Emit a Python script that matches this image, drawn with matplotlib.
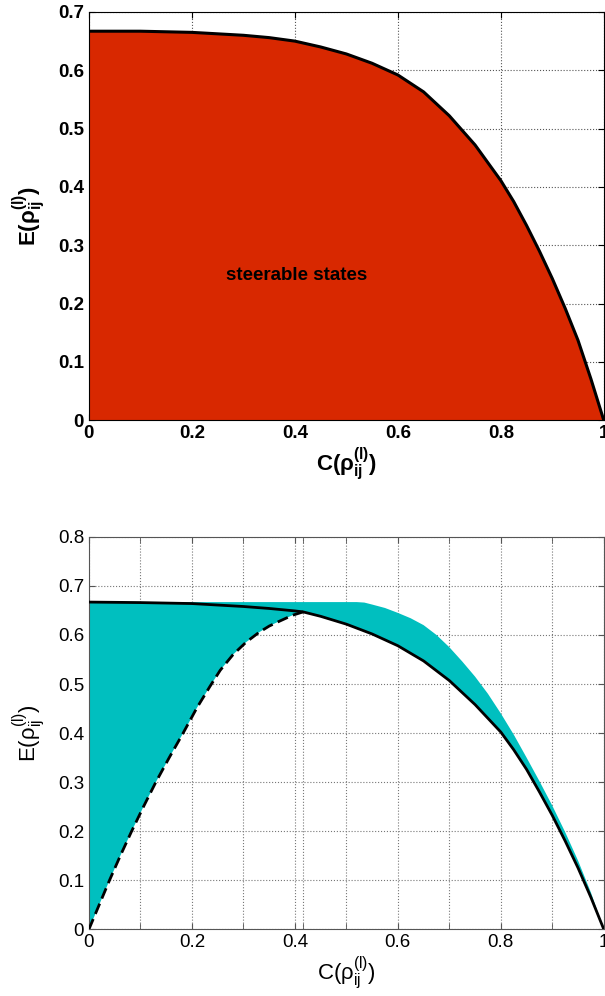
import matplotlib
matplotlib.use("Agg")
import matplotlib.pyplot as plt
import numpy as np

plt.rcParams['font.family'] = ['Liberation Sans', 'DejaVu Sans']
plt.rcParams['mathtext.fontset'] = 'custom'
plt.rcParams['mathtext.rm'] = 'Liberation Sans'
plt.rcParams['mathtext.it'] = 'Liberation Sans:italic'
plt.rcParams['mathtext.bf'] = 'Liberation Sans:bold'

# top panel: boundary of the steerable region
top_c = [0, 0.1, 0.2, 0.3, 0.35, 0.4, 0.45, 0.5, 0.55, 0.6, 0.65, 0.7, 0.75, 0.8,
         0.825, 0.85, 0.875, 0.9, 0.925, 0.95, 0.975, 1.0]
top_e = [0.667, 0.667, 0.665, 0.660, 0.656, 0.650, 0.640, 0.628, 0.612, 0.592, 0.563,
         0.522, 0.472, 0.411, 0.375, 0.334, 0.290, 0.243, 0.192, 0.137, 0.071, 0.0]

# bottom panel: solid curve
sol_c = [0, 0.1, 0.2, 0.3, 0.35, 0.4, 0.416, 0.45, 0.5, 0.55, 0.6, 0.65, 0.7, 0.75, 0.8,
         0.825, 0.85, 0.875, 0.9, 0.925, 0.95, 0.975, 1.0]
sol_e = [0.667, 0.666, 0.664, 0.658, 0.654, 0.649, 0.647, 0.638, 0.622, 0.602, 0.578,
         0.547, 0.507, 0.458, 0.402, 0.366, 0.326, 0.280, 0.232, 0.180, 0.125, 0.065, 0.0]

# bottom panel: dashed curve
dash_c = [0, 0.02, 0.04, 0.061, 0.083, 0.106, 0.13, 0.156, 0.183, 0.21, 0.235, 0.255,
          0.28, 0.305, 0.33, 0.35, 0.37, 0.395, 0.416]
dash_e = [0, 0.05, 0.1, 0.15, 0.2, 0.25, 0.3, 0.35, 0.4, 0.452, 0.495, 0.528,
          0.56, 0.585, 0.605, 0.618, 0.628, 0.640, 0.647]

# bottom panel: upper edge of cyan region
up_c = [0, 0.2, 0.4, 0.52, 0.535, 0.55, 0.575, 0.6, 0.625, 0.65, 0.675, 0.7, 0.725,
        0.75, 0.775, 0.8, 0.825, 0.85, 0.875, 0.9, 0.925, 0.95, 0.975, 1.0]
up_e = [0.667, 0.667, 0.667, 0.667, 0.666, 0.662, 0.655, 0.645, 0.634, 0.620, 0.600,
        0.575, 0.546, 0.515, 0.480, 0.440, 0.397, 0.350, 0.302, 0.252, 0.198, 0.140,
        0.075, 0.0]

fig = plt.figure(figsize=(6.05, 9.96), dpi=100)

# ---------- top ----------
ax1 = fig.add_axes([0.147, 0.578, 0.851, 0.410])
ax1.fill_between(top_c, top_e, 0, color='#d82800', lw=0, zorder=1)
ax1.plot(top_c, top_e, color='black', lw=2.2, zorder=3)
ax1.set_xlim(0, 1)
ax1.set_ylim(0, 0.7)
ax1.set_xticks(np.arange(0, 1.01, 0.2))
ax1.set_xticklabels(['0', '0.2', '0.4', '0.6', '0.8', '1'])
ax1.set_yticks(np.arange(0, 0.71, 0.1))
ax1.set_yticklabels(['0', '0.1', '0.2', '0.3', '0.4', '0.5', '0.6', '0.7'])
ax1.grid(True, ls=':', color='#555555', lw=0.8, zorder=0)
ax1.set_axisbelow(True)
ax1.tick_params(direction='in', top=True, right=True, labelsize=13.5, length=4)
for lab in ax1.get_xticklabels() + ax1.get_yticklabels():
    lab.set_fontweight('bold')
ax1.set_xlabel(r'$\mathbf{C(\rho_{ij}^{(l)})}$', fontsize=16, labelpad=2)
ax1.set_ylabel(r'$\mathbf{E(\rho_{ij}^{(l)})}$', fontsize=16, labelpad=8)
ax1.text(0.404, 0.249, 'steerable states', fontsize=13.5, fontweight='bold',
         ha='center', va='center', zorder=4)

# ---------- bottom ----------
ax2 = fig.add_axes([0.147, 0.067, 0.851, 0.394])
n_right = len([c for c in sol_c if c >= 0.416])
poly_c = up_c + sol_c[::-1][:n_right] + dash_c[::-1]
poly_e = up_e + sol_e[::-1][:n_right] + dash_e[::-1]
ax2.fill(poly_c, poly_e, color='#00bfbf', lw=0, zorder=1)
ax2.plot(sol_c, sol_e, color='black', lw=2, zorder=3)
ax2.plot(dash_c, dash_e, color='black', lw=2, ls='--', dashes=(4, 2), zorder=3)
ax2.set_xlim(0, 1)
ax2.set_ylim(0, 0.8)
ax2.set_xticks(np.arange(0, 1.01, 0.2))
ax2.set_xticklabels(['0', '0.2', '0.4', '0.6', '0.8', '1'])
ax2.set_xticks([0.1, 0.3, 0.416, 0.5, 0.7, 0.9], minor=True)
ax2.set_yticks(np.arange(0, 0.81, 0.1))
ax2.set_yticklabels(['0', '0.1', '0.2', '0.3', '0.4', '0.5', '0.6', '0.7', '0.8'])
ax2.grid(True, which='both', ls=':', color='#777777', lw=0.8, zorder=0)
ax2.set_axisbelow(True)
ax2.tick_params(which='both', direction='in', top=True, right=True, labelsize=13.5,
                length=4, color='#555555')
for s in ax2.spines.values():
    s.set_color('#555555')
ax2.set_xlabel(r'C($\mathregular{\rho_{ij}^{(l)}}$)', fontsize=16, labelpad=2)
ax2.set_ylabel(r'E($\mathregular{\rho_{ij}^{(l)}}$)', fontsize=16, labelpad=8)

fig.savefig('out.png', dpi=100)
